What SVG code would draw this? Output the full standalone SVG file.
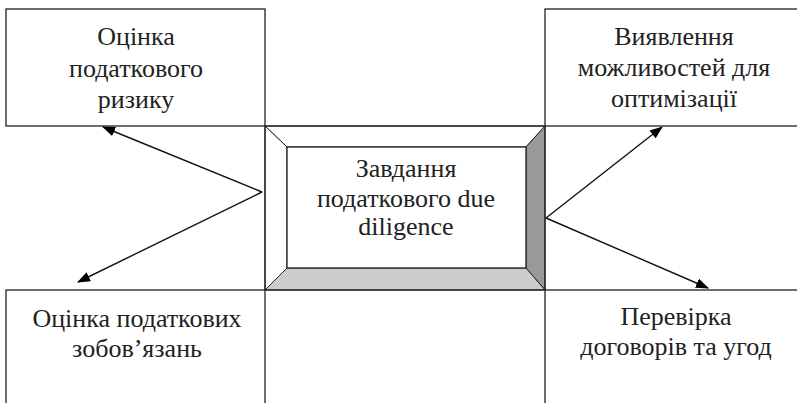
<svg xmlns="http://www.w3.org/2000/svg" width="797" height="403" viewBox="0 0 797 403">
<style>
.box{fill:#fff;stroke:#222;stroke-width:1.3}
.bev{stroke:#222;stroke-width:1}
.c{stroke:#111;stroke-width:1.4;fill:none;marker-end:url(#ah)}
</style>
<defs>
<marker id="ah" viewBox="0 0 13 10" refX="12" refY="5" markerWidth="13" markerHeight="10" markerUnits="userSpaceOnUse" orient="auto">
<path d="M0,0 L13,5 L0,10 z" fill="#000"/>
</marker>
</defs>
<rect width="797" height="403" fill="#fff"/>
<g font-family="'Liberation Serif', 'Times New Roman', serif" font-size="26" fill="#222" text-anchor="middle">
<g id="node-risk">
<rect class="box" x="6" y="9" width="259" height="117"/>
<text x="136" y="45">Оцінка</text>
<text x="136" y="77">податкового</text>
<text x="136" y="108">ризику</text>
</g>
<g id="node-optim">
<rect class="box" x="545" y="9" width="262" height="117"/>
<text x="674" y="45">Виявлення</text>
<text x="674" y="76">можливостей для</text>
<text x="674" y="107">оптимізації</text>
</g>
<g id="node-liab">
<rect class="box" x="6" y="290" width="259" height="125"/>
<text x="137" y="327">Оцінка податкових</text>
<text x="137" y="357">зобов’язань</text>
</g>
<g id="node-contracts">
<rect class="box" x="545" y="290" width="262" height="125"/>
<text x="676" y="325">Перевірка</text>
<text x="676" y="355">договорів та угод</text>
</g>
<g id="node-center">
<polygon class="bev" fill="#fff" points="265,126 545,126 526,147 287,147"/>
<polygon class="bev" fill="#fff" points="265,126 287,147 287,268 265,290"/>
<polygon class="bev" fill="#999" points="545,126 545,290 526,268 526,147"/>
<polygon class="bev" fill="#ccc" points="265,290 545,290 526,268 287,268"/>
<rect x="265" y="126" width="280" height="164" fill="none" stroke="#222" stroke-width="1.3"/>
<rect x="287" y="147" width="239" height="121" fill="#fff" stroke="#222" stroke-width="1.3"/>
<text x="406" y="177">Завдання</text>
<text x="406" y="207">податкового due</text>
<text x="406" y="235">diligence</text>
</g>
</g>
<g id="connectors">
<line class="c" x1="262" y1="192" x2="103" y2="127"/>
<line class="c" x1="262" y1="192" x2="78" y2="282"/>
<line class="c" x1="546" y1="218" x2="662" y2="127"/>
<line class="c" x1="546" y1="218" x2="708" y2="288"/>
</g>
</svg>
